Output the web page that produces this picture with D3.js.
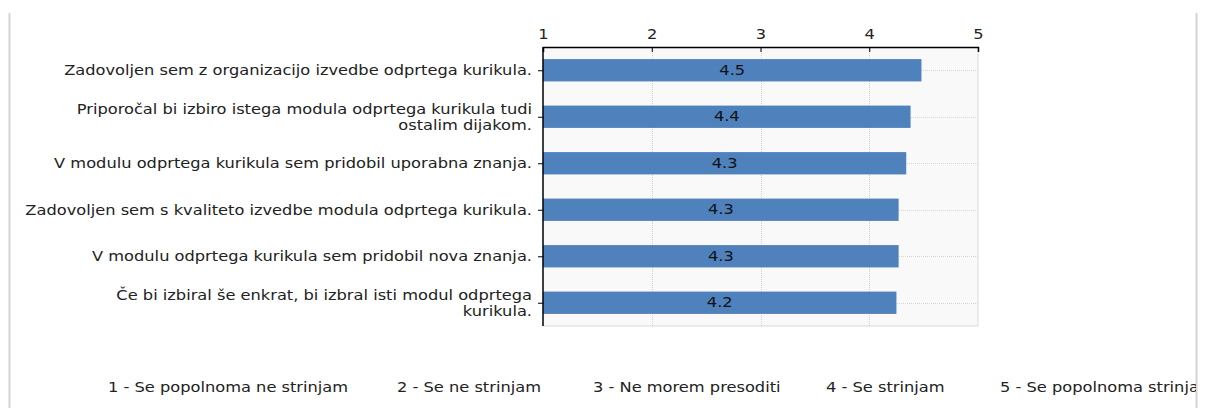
<!DOCTYPE html>
<html>
<head>
<meta charset="utf-8">
<script src="https://cdn.jsdelivr.net/npm/d3@7"></script>
<style>
body { margin:0; background:#fff; }
text { font-family: "DejaVu Sans", Verdana, sans-serif; fill:#222; font-size:14px; }
</style>
</head>
<body>
<div class="chart"></div>
<script>
// questions, top to bottom
const questions = [
  ["Zadovoljen sem z organizacijo izvedbe odprtega kurikula."],
  ["Priporočal bi izbiro istega modula odprtega kurikula tudi", "ostalim dijakom."],
  ["V modulu odprtega kurikula sem pridobil uporabna znanja."],
  ["Zadovoljen sem s kvaliteto izvedbe modula odprtega kurikula."],
  ["V modulu odprtega kurikula sem pridobil nova znanja."],
  ["Če bi izbiral še enkrat, bi izbral isti modul odprtega", "kurikula."]
];
const values = [4.48, 4.38, 4.34, 4.27, 4.27, 4.25];
const valueLabels = ["4.5", "4.4", "4.3", "4.3", "4.3", "4.2"];
const ticks = [1, 2, 3, 4, 5];
const legendItems = ["1 - Se popolnoma ne strinjam", "2 - Se ne strinjam", "3 - Ne morem presoditi", "4 - Se strinjam", "5 - Se popolnoma strinjam"];
const legendX = [108, 397, 593, 826, 1000];

let W = 1205, H = 408;
let margin = {top:47, left:543};
let width = 978 - 543;
let height = 326 - 47;
let sx = 1.16; // text in the picture is a bit wide

let svg = d3.select('.chart')
    .append('svg')
    .attr('width', W)
    .attr('height', H);

svg.append('defs').append('clipPath').attr('id','frame')
    .append('rect').attr('x',9).attr('y',0).attr('width',1187).attr('height',H);

// frame lines
svg.append('line').attr('x1',9.5).attr('x2',9.5).attr('y1',13).attr('y2',H).attr('stroke','#d4d4d4').attr('stroke-width',2);
svg.append('line').attr('x1',1196.5).attr('x2',1196.5).attr('y1',13).attr('y2',H).attr('stroke','#d4d4d4').attr('stroke-width',2);

let g = svg.append('g').attr('transform', `translate(${margin.left},${margin.top})`);

let xScale = d3.scaleLinear().domain([1,5]).range([0,width]);
let yScale = d3.scaleBand().domain(d3.range(values.length)).range([0,height]).paddingInner(0.52).paddingOuter(0.26);

// plot background
g.append('rect').attr('width',width).attr('height',height).attr('fill','#f9f9f9');
g.append('line').attr('x1',width).attr('x2',width).attr('y1',0).attr('y2',height).attr('stroke','#d9d9d9');
g.append('line').attr('x1',0).attr('x2',width).attr('y1',height).attr('y2',height).attr('stroke','#d9d9d9');

// vertical dotted grid
g.selectAll('.vgrid').data(ticks.slice(1,-1)).enter().append('line')
    .attr('x1', d=>Math.round(xScale(d))+0.5).attr('x2', d=>Math.round(xScale(d))+0.5)
    .attr('y1',0).attr('y2',height)
    .attr('stroke','#cfcfcf').attr('stroke-dasharray','1,1');
// horizontal dotted grid at bar centers
g.selectAll('.hgrid').data(d3.range(values.length)).enter().append('line')
    .attr('x1',0).attr('x2',width)
    .attr('y1', i=>Math.round(yScale(i)+yScale.bandwidth()/2)+0.5)
    .attr('y2', i=>Math.round(yScale(i)+yScale.bandwidth()/2)+0.5)
    .attr('stroke','#d6d6d6').attr('stroke-dasharray','1,1');

// bars
g.selectAll('.bar').data(values).enter().append('rect')
    .attr('x',0)
    .attr('y',(d,i)=>yScale(i))
    .attr('width', d=>xScale(d))
    .attr('height', yScale.bandwidth())
    .attr('fill','#4f81bd');

g.selectAll('.vlab').data(values).enter().append('text')
    .attr('transform',(d,i)=>`translate(${xScale(d)/2},${yScale(i)+yScale.bandwidth()/2}) scale(${sx},1)`)
    .attr('dy','0.33em')
    .attr('text-anchor','middle')
    .style('fill','#111')
    .text((d,i)=>valueLabels[i]);

// top axis
let xAxis = d3.axisTop(xScale).tickValues(ticks).tickFormat(d3.format('d')).tickSize(-5).tickPadding(8);
let ax = g.append('g').call(xAxis);
ax.select('.domain').attr('stroke','#000').attr('stroke-width',1.5);
ax.selectAll('.tick line').attr('stroke','#000');
ax.selectAll('text').style('font-size','14px').attr('fill','#222')
    .attr('transform',`scale(${sx},1)`);

// left axis line
g.append('line').attr('x1',0).attr('x2',0).attr('y1',0).attr('y2',height).attr('stroke','#000').attr('stroke-width',1.5);
g.selectAll('.ltick').data(d3.range(values.length)).enter().append('line')
    .attr('x1',-5).attr('x2',0)
    .attr('y1', i=>yScale(i)+yScale.bandwidth()/2+0.5)
    .attr('y2', i=>yScale(i)+yScale.bandwidth()/2+0.5)
    .attr('stroke','#000');

// category labels
let labs = g.selectAll('.qlab').data(questions).enter().append('text')
    .attr('text-anchor','end')
    .attr('transform',(d,i)=>`translate(-11,${yScale(i)+yScale.bandwidth()/2 - (d.length-1)*8}) scale(${sx},1)`);
labs.selectAll('tspan').data(d=>d).enter().append('tspan')
    .attr('x',0)
    .attr('y',(d,j)=>j*16)
    .attr('dy','0.35em')
    .text(d=>d);

// legend (last item runs past the frame, as in the picture)
svg.append('g').attr('clip-path','url(#frame)')
    .selectAll('text').data(legendItems).enter().append('text')
    .attr('transform',(d,i)=>`translate(${legendX[i]},392) scale(${sx},1)`)
    .text(d=>d);
</script>
</body>
</html>
